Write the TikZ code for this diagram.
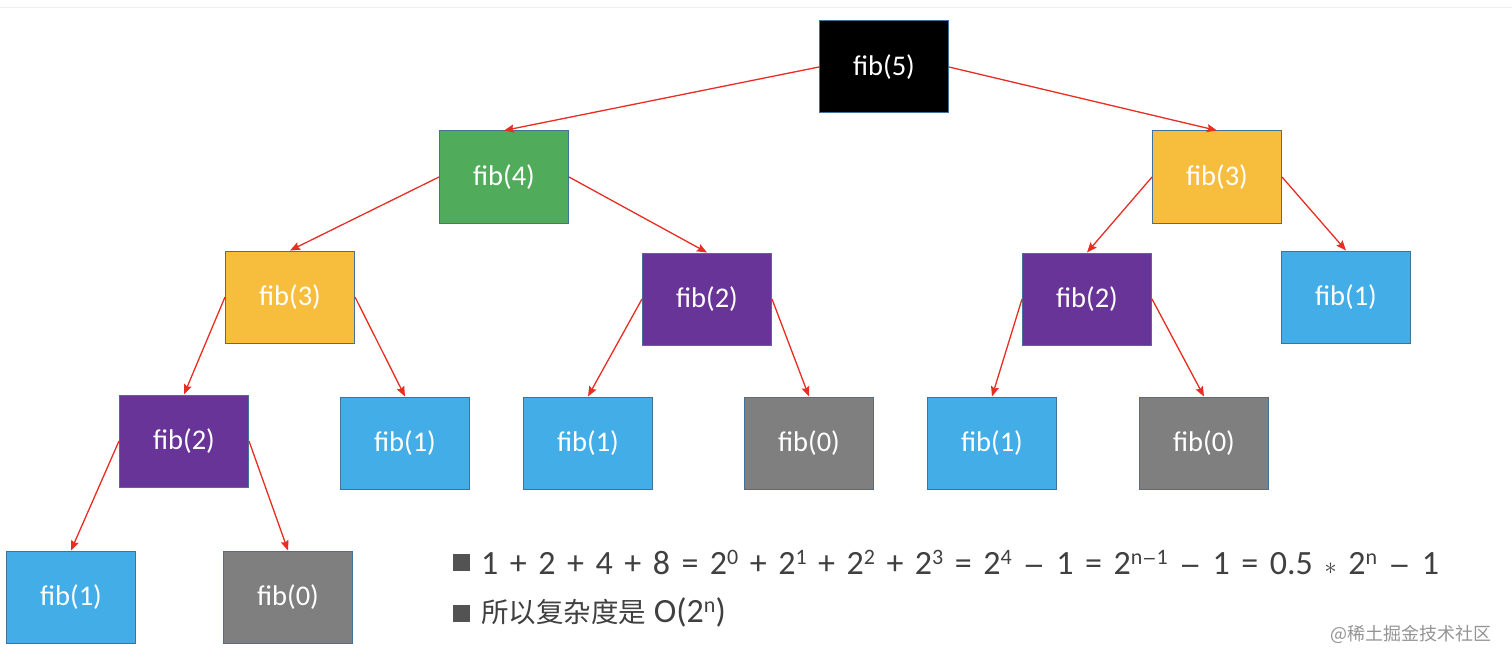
\documentclass[tikz,border=0pt]{standalone}
\usepackage{fontspec}
\setmainfont{Carlito}
\newfontfamily\cjk{Noto Sans CJK SC}
\newfontfamily\dvsans{DejaVu Sans}
\usetikzlibrary{arrows.meta}
\definecolor{nborder}{RGB}{65,113,156}
\definecolor{cblack}{RGB}{0,0,0}
\definecolor{cgreen}{RGB}{80,172,90}
\definecolor{cyellow}{RGB}{246,190,60}
\definecolor{cpurple}{RGB}{105,52,152}
\definecolor{cblue}{RGB}{66,173,230}
\definecolor{cgray}{RGB}{127,127,127}
\definecolor{cred}{RGB}{232,45,35}
\definecolor{ctext}{RGB}{64,64,64}
\tikzset{
  fibbox/.style={draw=nborder, line width=1pt, minimum width=129pt, minimum height=92pt,
    inner sep=0pt, text=white, font=\fontsize{28.5}{32}\selectfont},
  edge/.style={draw=cred, line width=1.3pt, -{Stealth[length=10pt,width=8pt,inset=1.5pt]}},
  bulletsq/.style={fill=ctext!90!white, minimum size=17.5pt, inner sep=0pt},
  formula/.style={anchor=base west, inner sep=0pt, text=ctext, font=\fontsize{34}{38}\selectfont},
}
\newcommand{\sps}[1]{\raisebox{9.5pt}{\fontsize{22}{24}\selectfont #1}}
\newcommand{\mns}{{\dvsans\fontsize{26}{28}\selectfont −}}
\newcommand{\smns}{{\dvsans\fontsize{17}{19}\selectfont −}}
\begin{document}
\begin{tikzpicture}[x=1pt,y=-1pt]
\useasboundingbox (0,0) rectangle (1512,663);
\fill[white] (0,0) rectangle (1512,663);
\draw[black!6, line width=1pt] (0,8) -- (1512,8);
% nodes
\node[fibbox, fill=cblack] (n5) at (884,67) {fib(5)};
\node[fibbox, fill=cgreen] (n4) at (504,177) {fib(4)};
\node[fibbox, fill=cyellow] (n3r) at (1217,177) {fib(3)};
\node[fibbox, fill=cyellow] (n3l) at (290,297) {fib(3)};
\node[fibbox, fill=cpurple] (n2m) at (707,299) {fib(2)};
\node[fibbox, fill=cpurple] (n2r) at (1087,299) {fib(2)};
\node[fibbox, fill=cblue] (n1rt) at (1346,297) {fib(1)};
\node[fibbox, fill=cpurple] (n2l) at (184,441) {fib(2)};
\node[fibbox, fill=cblue] (n1a) at (405,443) {fib(1)};
\node[fibbox, fill=cblue] (n1b) at (588,443) {fib(1)};
\node[fibbox, fill=cgray] (n0b) at (809,443) {fib(0)};
\node[fibbox, fill=cblue] (n1c) at (992,443) {fib(1)};
\node[fibbox, fill=cgray] (n0c) at (1204,443) {fib(0)};
\node[fibbox, fill=cblue] (n1d) at (71,597) {fib(1)};
\node[fibbox, fill=cgray] (n0d) at (288,597) {fib(0)};
% edges
\draw[edge] (n5.west) -- (n4.north);
\draw[edge] (n5.east) -- (n3r.north);
\draw[edge] (n4.west) -- (n3l.north);
\draw[edge] (n4.east) -- (n2m.north);
\draw[edge] (n3l.west) -- (n2l.north);
\draw[edge] (n3l.east) -- (n1a.north);
\draw[edge] (n2m.west) -- (n1b.north);
\draw[edge] (n2m.east) -- (n0b.north);
\draw[edge] (n3r.west) -- (n2r.north);
\draw[edge] (n3r.east) -- (n1rt.north);
\draw[edge] (n2r.west) -- (n1c.north);
\draw[edge] (n2r.east) -- (n0c.north);
\draw[edge] (n2l.west) -- (n1d.north);
\draw[edge] (n2l.east) -- (n0d.north);
% text
\node[bulletsq] (b1) at (461.5,562.5) {};
\node[formula] (f1) at (481,574) {\makebox[958pt][s]{1 + 2 + 4 + 8 = 2\sps{0} + 2\sps{1} + 2\sps{2} + 2\sps{3} = 2\sps{4} \mns{} 1 = 2\sps{n\smns{}1} \mns{} 1 = 0.5 $\ast$ 2\sps{n} \mns{} 1}};
\node[bulletsq] (b2) at (461.5,613.5) {};
\node[formula] (f2) at (481,622) {{\cjk\fontsize{27.5}{30}\selectfont 所以复杂度是} O(2\sps{n})};
\node[anchor=base east, inner sep=0pt, text=black!42, font=\cjk\fontsize{18}{20}\selectfont] (wm) at (1492,640) {@稀土掘金技术社区};
\end{tikzpicture}
\end{document}
